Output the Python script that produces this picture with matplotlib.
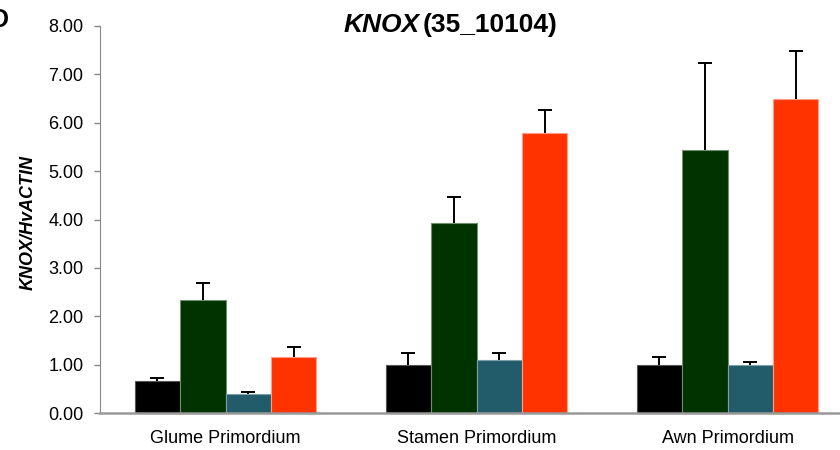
import numpy as np
from matplotlib import pyplot as plt

plt.rcParams['font.family'] = ['Liberation Sans', 'DejaVu Sans']

groups = ['Glume Primordium', 'Stamen Primordium', 'Awn Primordium']
colors = ['#000000', '#003300', '#225B6A', '#FF3300']
edges = ['#555555', '#6F8F6F', '#7F9FA8', '#FF9F8A']

means = [
    [0.66, 0.99, 0.99],
    [2.34, 3.93, 5.44],
    [0.39, 1.10, 0.99],
    [1.16, 5.79, 6.49],
]
errs = [
    [0.07, 0.25, 0.17],
    [0.34, 0.54, 1.79],
    [0.05, 0.13, 0.07],
    [0.20, 0.48, 0.99],
]

fig = plt.figure(figsize=(8.4, 4.5), dpi=100)
ax = fig.add_axes([100 / 840, 37 / 450, 753 / 840, 387 / 450])

x = np.arange(len(groups))
w = 0.181
for i, (m, e) in enumerate(zip(means, errs)):
    pos = x + (i - 1.5) * w
    ax.bar(pos, m, width=w, color=colors[i], edgecolor=edges[i], linewidth=0.8, zorder=2)
    _, caps, _ = ax.errorbar(pos, m, yerr=[np.zeros(len(m)), e], fmt='none', ecolor='black',
                             elinewidth=1.4, capsize=5, capthick=1.4, zorder=3)
    caps[0].set_visible(False)

ax.set_xlim(-0.5, 2.5)
ax.set_ylim(0, 8)
ax.set_yticks(np.arange(0, 9, 1))
ax.set_yticklabels([f'{v:.2f}' for v in range(9)], fontsize=13)
ax.set_xticks(x)
ax.set_xticklabels(groups, fontsize=13)
ax.tick_params(axis='x', length=0, pad=12)
ax.tick_params(axis='y', length=4, width=1, color='#888888', pad=8, direction='out')
for s in ['top', 'right']:
    ax.spines[s].set_visible(False)
ax.spines['left'].set_color('#888888')
ax.spines['bottom'].set_color('#999999')
ax.spines['bottom'].set_linewidth(1.8)

fig.text(28 / 840, 1 - 223 / 450, 'KNOX/HvACTIN', rotation=90, ha='center', va='center',
         fontsize=13, fontweight='bold', fontstyle='italic')

fig.text(420 / 840, 1 - 25 / 450, 'KNOX', ha='right', va='center', fontsize=19,
         fontweight='bold', fontstyle='italic')
fig.text(423 / 840, 1 - 25 / 450, '(35_10104)', ha='left', va='center', fontsize=19,
         fontweight='bold')
fig.text(-0.012, 1 - 20 / 450, 'D', ha='left', va='center', fontsize=18, fontweight='bold')

fig.savefig('out.png', dpi=100)
